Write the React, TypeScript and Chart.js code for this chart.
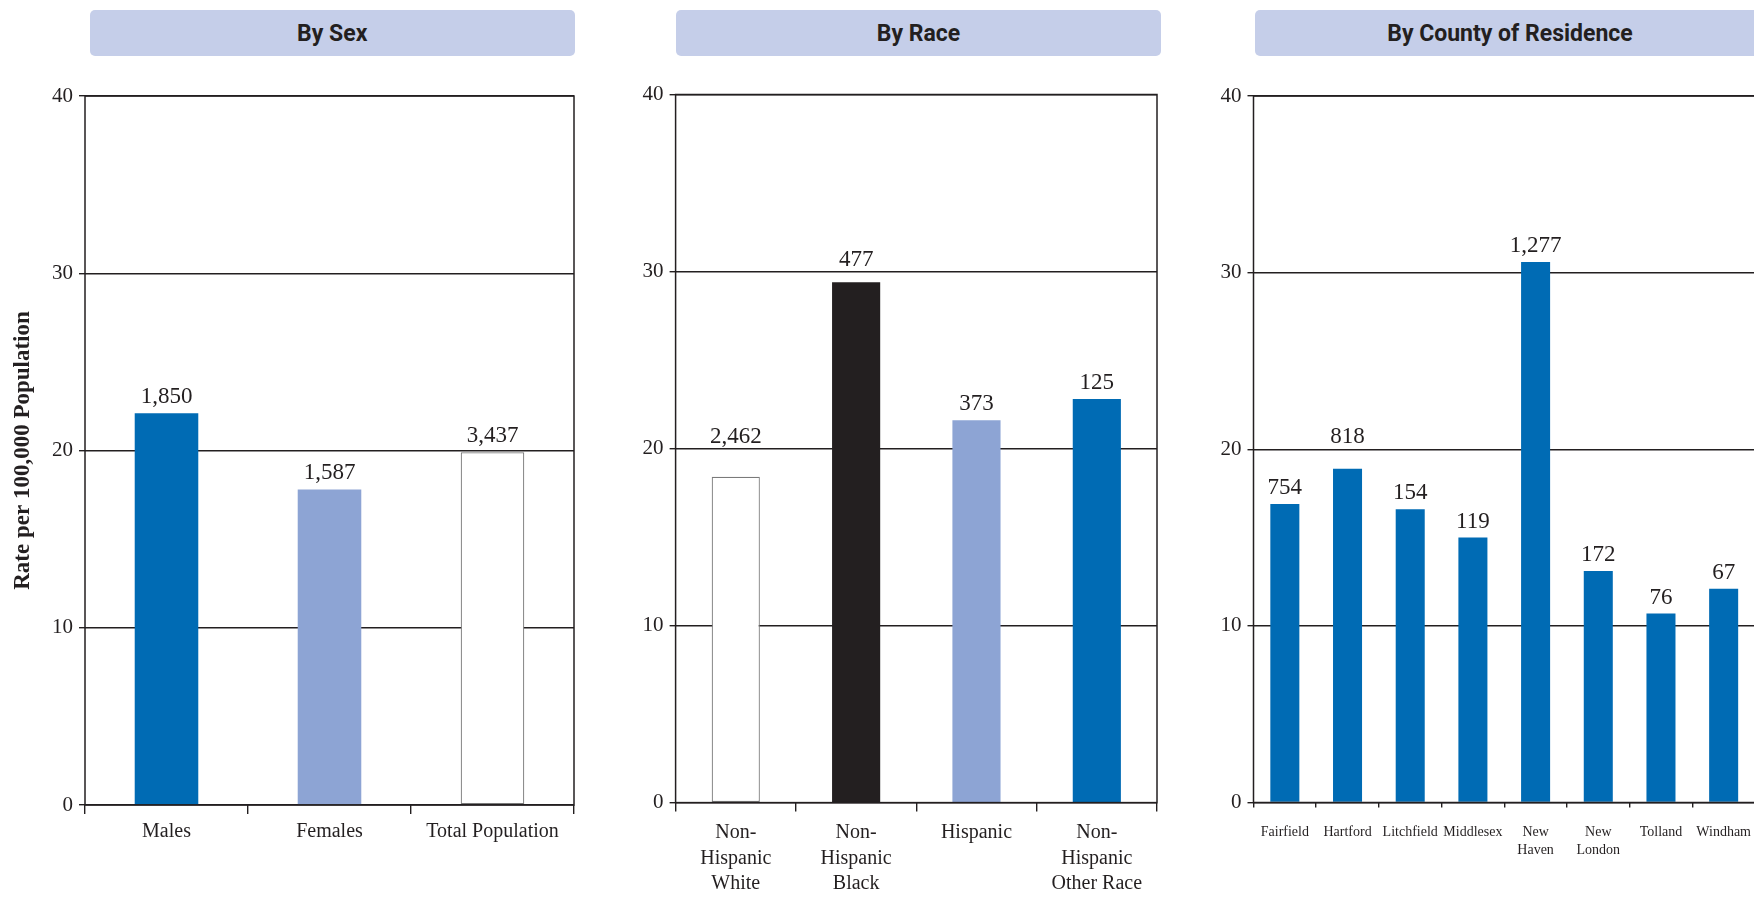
import React, { useEffect, useRef } from "react";
import { Chart, registerables } from "chart.js";

Chart.register(...registerables);

// ---------- data ----------
const panelTitles = ["By Sex", "By Race", "By County of Residence"];
const yAxisTitle = "Rate per 100,000 Population";
const yMin = 0;
const yMax = 40;
const yStep = 10;
const yTicks = [0, 10, 20, 30, 40];

const sexCategories: (string | string[])[] = ["Males", "Females", "Total Population"];
const sexRates = [22.1, 17.8, 19.9];
const sexCounts = ["1,850", "1,587", "3,437"];

const raceCategories: (string | string[])[] = [
  ["Non-", "Hispanic", "White"],
  ["Non-", "Hispanic", "Black"],
  "Hispanic",
  ["Non-", "Hispanic", "Other Race"],
];
const raceRates = [18.4, 29.4, 21.6, 22.8];
const raceCounts = ["2,462", "477", "373", "125"];

const countyCategories: (string | string[])[] = [
  "Fairfield",
  "Hartford",
  "Litchfield",
  "Middlesex",
  ["New", "Haven"],
  ["New", "London"],
  "Tolland",
  "Windham",
];
const countyRates = [16.9, 18.9, 16.6, 15.0, 30.6, 13.1, 10.7, 12.1];
const countyCounts = ["754", "818", "154", "119", "1,277", "172", "76", "67"];

// ---------- styles ----------
const INK = "#231f20";
const DARK_BLUE = "#006bb4";
const LIGHT_BLUE = "#8da4d4";
const WHITE = "#ffffff";
const GRAY_EDGE = "#7a7a7a";
const HEADER_BG = "#c5cee9";
const SERIF = "'Liberation Serif', 'Times New Roman', serif";
const HEADER_FONT = "'Liberation Sans Narrow', 'Roboto', 'Noto Sans', sans-serif";
const PAGE_H = 899;

type Area = { left: number; right: number; top: number; bottom: number };

type PanelProps = {
  canvasLeft: number;
  canvasWidth: number;
  area: Area;
  labels: (string | string[])[];
  values: number[];
  counts: string[];
  colors: string[];
  borders: string[];
  borderWidths: number[];
  barPct: number;
  xFontSize: number;
  xLineHeight: number;
  xTickLen: number;
  xPad: number;
  yTitle?: string;
};

function Panel(p: PanelProps) {
  const ref = useRef<HTMLCanvasElement | null>(null);

  useEffect(() => {
    if (!ref.current) return;

    const framePlugin = {
      id: "frame",
      afterDatasetsDraw(chart: any) {
        const { ctx, chartArea: a } = chart;
        ctx.save();
        ctx.strokeStyle = INK;
        ctx.lineWidth = 1.5;
        ctx.strokeRect(a.left, a.top, a.right - a.left, a.bottom - a.top);
        ctx.restore();
      },
    };

    const valueLabels = {
      id: "valueLabels",
      afterDatasetsDraw(chart: any) {
        const { ctx } = chart;
        const yScale = chart.scales.y;
        const meta = chart.getDatasetMeta(0);
        ctx.save();
        ctx.fillStyle = INK;
        ctx.font = `23px ${SERIF}`;
        ctx.textAlign = "center";
        ctx.textBaseline = "alphabetic";
        meta.data.forEach((bar: any, i: number) => {
          let baseline = bar.y - 10;
          const top = baseline - 16;
          // keep labels clear of the horizontal rules
          yTicks.forEach((v) => {
            const py = yScale.getPixelForValue(v);
            if (py > top - 8 && py < baseline + 4) baseline = py - 6;
          });
          ctx.fillText(p.counts[i], bar.x, baseline);
        });
        ctx.restore();
      },
    };

    const chart = new Chart(ref.current, {
      type: "bar",
      data: {
        labels: p.labels as any,
        datasets: [
          {
            data: p.values,
            backgroundColor: p.colors,
            borderColor: p.borders,
            borderWidth: p.borderWidths,
            borderSkipped: false,
            barPercentage: p.barPct,
            categoryPercentage: 1,
          } as any,
        ],
      },
      options: {
        animation: false,
        responsive: false,
        devicePixelRatio: 1,
        layout: {
          padding: {
            left: 0,
            top: p.area.top,
            right: p.canvasLeft + p.canvasWidth - p.area.right,
            bottom: 0,
          },
        },
        plugins: {
          legend: { display: false },
          tooltip: { enabled: false },
        },
        scales: {
          x: {
            type: "category",
            offset: true,
            grid: {
              display: true,
              drawOnChartArea: false,
              drawTicks: true,
              tickLength: p.xTickLen,
              color: INK,
              lineWidth: 1.4,
              offset: true,
            },
            border: { display: false },
            ticks: {
              color: INK,
              font: { family: SERIF, size: p.xFontSize, lineHeight: p.xLineHeight },
              padding: p.xPad,
              maxRotation: 0,
              minRotation: 0,
              autoSkip: false,
            },
            afterFit: (s: any) => {
              s.height = PAGE_H - p.area.bottom;
            },
          },
          y: {
            min: yMin,
            max: yMax,
            afterBuildTicks: (s: any) => {
              s.ticks = yTicks.map((v) => ({ value: v }));
            },
            ticks: {
              stepSize: yStep,
              color: INK,
              font: { family: SERIF, size: 21 },
              padding: 6,
            },
            grid: {
              color: INK,
              lineWidth: 1.4,
              tickLength: 6,
              drawTicks: true,
            },
            border: { display: false },
            title: p.yTitle
              ? {
                  display: true,
                  text: p.yTitle,
                  color: INK,
                  font: { family: SERIF, size: 23, weight: "bold", lineHeight: 1.2 },
                  padding: { top: 9, bottom: 0 },
                }
              : { display: false },
            afterFit: (s: any) => {
              s.width = p.area.left - p.canvasLeft;
            },
          },
        },
      } as any,
      plugins: [framePlugin, valueLabels],
    });

    return () => chart.destroy();
  }, []);

  return (
    <canvas
      ref={ref}
      width={p.canvasWidth}
      height={PAGE_H}
      style={{
        position: "absolute",
        left: p.canvasLeft,
        top: 0,
        width: p.canvasWidth,
        height: PAGE_H,
      }}
    />
  );
}

function Header({ left, width, text }: { left: number; width: number; text: string }) {
  return (
    <div
      style={{
        position: "absolute",
        left,
        top: 10,
        width,
        height: 46,
        background: HEADER_BG,
        borderRadius: 5,
        display: "flex",
        alignItems: "center",
        justifyContent: "center",
        fontFamily: HEADER_FONT,
        fontWeight: "bold",
        fontSize: 23,
        color: INK,
      }}
    >
      {text}
    </div>
  );
}

export default function App() {
  return (
    <div
      style={{
        position: "absolute",
        left: 0,
        top: 0,
        width: 1754,
        height: PAGE_H,
        overflow: "hidden",
        background: "#ffffff",
      }}
    >
      <Header left={89.5} width={485.5} text={panelTitles[0]} />
      <Header left={676} width={485} text={panelTitles[1]} />
      <Header left={1255} width={510} text={panelTitles[2]} />

      <Panel
        canvasLeft={0}
        canvasWidth={610}
        area={{ left: 85, right: 574, top: 96, bottom: 805 }}
        labels={sexCategories}
        values={sexRates}
        counts={sexCounts}
        colors={[DARK_BLUE, LIGHT_BLUE, WHITE]}
        borders={[DARK_BLUE, LIGHT_BLUE, GRAY_EDGE]}
        borderWidths={[0, 0, 1.2]}
        barPct={0.39}
        xFontSize={20}
        xLineHeight={1.29}
        xTickLen={9}
        xPad={5}
        yTitle={yAxisTitle}
      />
      <Panel
        canvasLeft={610}
        canvasWidth={570}
        area={{ left: 675.6, right: 1157, top: 94.5, bottom: 802.6 }}
        labels={raceCategories}
        values={raceRates}
        counts={raceCounts}
        colors={[WHITE, INK, LIGHT_BLUE, DARK_BLUE]}
        borders={[GRAY_EDGE, INK, LIGHT_BLUE, DARK_BLUE]}
        borderWidths={[1.2, 0, 0, 0]}
        barPct={0.4}
        xFontSize={20}
        xLineHeight={1.29}
        xTickLen={9}
        xPad={8}
      />
      <Panel
        canvasLeft={1180}
        canvasWidth={620}
        area={{ left: 1253.5, right: 1755, top: 96, bottom: 802.5 }}
        labels={countyCategories}
        values={countyRates}
        counts={countyCounts}
        colors={countyRates.map(() => DARK_BLUE)}
        borders={countyRates.map(() => DARK_BLUE)}
        borderWidths={countyRates.map(() => 0)}
        barPct={0.463}
        xFontSize={14}
        xLineHeight={1.28}
        xTickLen={5}
        xPad={16}
      />
    </div>
  );
}
